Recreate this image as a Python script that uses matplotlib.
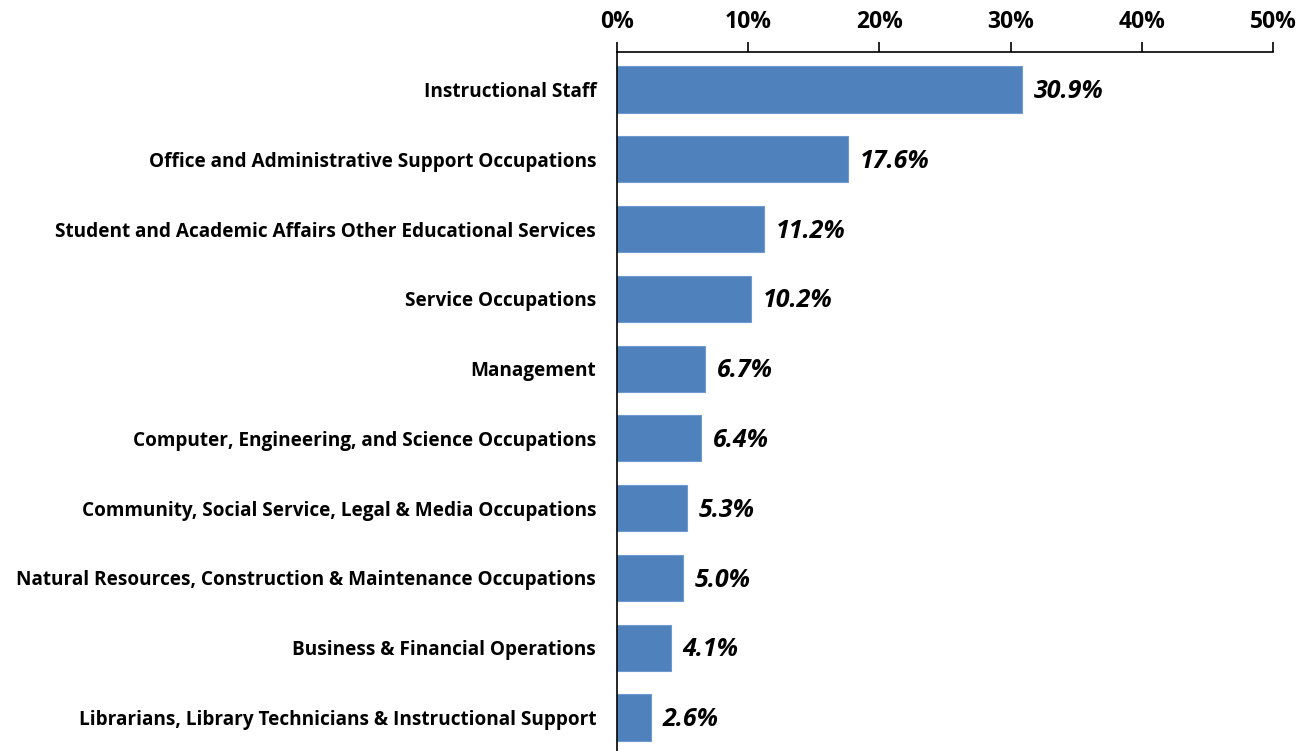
import matplotlib.pyplot as plt
from matplotlib.ticker import PercentFormatter

categories = [
    "Instructional Staff",
    "Office and Administrative Support Occupations",
    "Student and Academic Affairs Other Educational Services",
    "Service Occupations",
    "Management",
    "Computer, Engineering, and Science Occupations",
    "Community, Social Service, Legal & Media Occupations",
    "Natural Resources, Construction & Maintenance Occupations",
    "Business & Financial Operations",
    "Librarians, Library Technicians & Instructional Support",
]
values = [30.9, 17.6, 11.2, 10.2, 6.7, 6.4, 5.3, 5.0, 4.1, 2.6]
xticks = [0, 10, 20, 30, 40, 50]

plt.rcParams["font.family"] = ["Open Sans", "DejaVu Sans"]

fig = plt.figure(figsize=(12.98, 7.51), dpi=100)
ax = fig.add_axes([617 / 1298, 0.0, (1273 - 617) / 1298, 1 - 52 / 751])

y = range(len(categories))
ax.barh(y, values, height=0.66, color="#4F81BD", edgecolor="#6F9AD0", linewidth=0.8)

for yi, v in zip(y, values):
    ax.text(v + 0.9, yi + 0.03, f"{v:.1f}%", va="center", ha="left",
            fontsize=18, fontweight="bold", fontstyle="italic")

ax.set_xlim(0, 50)
ax.set_ylim(9.48, -0.537)
ax.set_xticks(xticks)
ax.xaxis.set_major_formatter(PercentFormatter(decimals=0))
ax.xaxis.tick_top()
ax.tick_params(axis="x", direction="out", length=7, width=1.2, labelsize=16.5, pad=6)
ax.tick_params(axis="y", length=0, labelsize=13.7, pad=15)
for lbl in ax.get_xticklabels():
    lbl.set_fontweight("bold")
ax.set_yticks(list(y))
ax.set_yticklabels(categories, fontweight="bold")

ax.spines["right"].set_visible(False)
ax.spines["bottom"].set_visible(False)
ax.spines["top"].set_linewidth(1.2)
ax.spines["left"].set_linewidth(1.2)

fig.savefig("out.png", dpi=100)
